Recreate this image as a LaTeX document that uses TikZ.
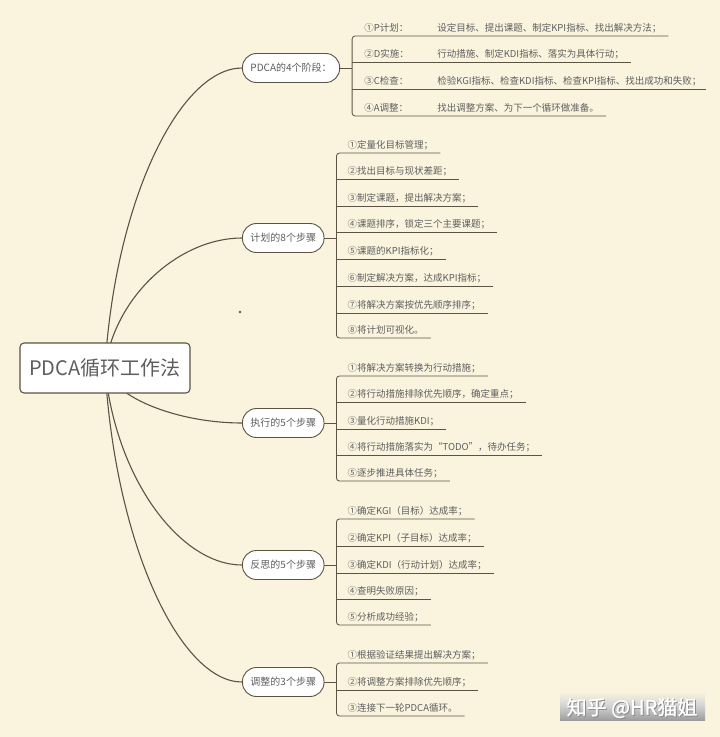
\documentclass[tikz,border=0pt]{standalone}
\usepackage{fontspec}
\setmainfont{Noto Sans CJK SC}
\newfontfamily\wmfont{Noto Sans CJK SC}[FakeBold=1.2]
\usetikzlibrary{calc}
\definecolor{bgc}{HTML}{FAF4DF}
\definecolor{linec}{HTML}{5B5344}
\definecolor{txtc}{HTML}{5E5E5E}
\pgfdeclarelayer{bglayer}
\pgfdeclarelayer{lines}
\pgfsetlayers{bglayer,lines,main}
\begin{document}
\begin{tikzpicture}[x=1pt,y=-1pt,
  rootbox/.style={draw=linec, line width=1.1pt, fill=white, rounded corners=4pt, minimum width=170pt, minimum height=50pt, font=\fontsize{20}{24}\selectfont, text=txtc, inner sep=0pt},
  branchbox/.style={draw=linec, line width=0.9pt, fill=white, rounded corners=14pt, minimum height=29pt, inner xsep=8pt, font=\fontsize{10}{12}\selectfont, text=txtc, anchor=west},
  leaf/.style={anchor=south west, inner sep=0pt, text height=8.5pt, text depth=4.5pt, font=\fontsize{9.5}{11}\selectfont, text=txtc},
  conn/.style={draw=linec, line width=1.1pt},
  uline/.style={draw=linec, line width=0.8pt},
  lead/.style={draw=linec, line width=0.9pt},
]
\begin{pgfonlayer}{bglayer}
\fill[bgc] (0,0) rectangle (720,737);
\end{pgfonlayer}
\useasboundingbox (0,0) rectangle (720,737);

% root and branches
\node[rootbox] (root) at (105,368) {PDCA循环工作法};
\node[branchbox] (b1) at (242,68) {PDCA的4个阶段：};
\node[branchbox] (b2) at (242,238) {计划的8个步骤};
\node[branchbox] (b3) at (242,423) {执行的5个步骤};
\node[branchbox] (b4) at (242,565) {反思的5个步骤};
\node[branchbox] (b5) at (242,682) {调整的3个步骤};

\begin{pgfonlayer}{lines}
\draw[conn] (root.center) .. controls (115,200) and (180,68) .. (b1.west);
\draw[conn] (root.center) .. controls (115,295) and (180,238) .. (b2.west);
\draw[conn] (root.center) .. controls (115,399) and (180,423) .. (b3.west);
\draw[conn] (root.center) .. controls (115,478) and (180,565) .. (b4.west);
\draw[conn] (root.center) .. controls (115,544) and (180,682) .. (b5.west);
\end{pgfonlayer}

% bracket x positions
\coordinate (v1) at ($(b1.east)+(12,0)$);
\coordinate (v2) at ($(b2.east)+(12,0)$);
\coordinate (v3) at ($(b3.east)+(12,0)$);
\coordinate (v4) at ($(b4.east)+(12,0)$);
\coordinate (v5) at ($(b5.east)+(12,0)$);

% group 1
\node[leaf] (c1a) at (v1 |- 0,36) {\hspace*{12pt}\makebox[73pt][l]{①P计划：}设定目标、提出课题、制定KPI指标、找出解决方法；\hspace*{7pt}};
\node[leaf] (c1b) at (v1 |- 0,62) {\hspace*{12pt}\makebox[73pt][l]{②D实施：}行动措施、制定KDI指标、落实为具体行动；\hspace*{7pt}};
\node[leaf] (c1c) at (v1 |- 0,89) {\hspace*{12pt}\makebox[73pt][l]{③C检查：}检验KGI指标、检查KDI指标、检查KPI指标、找出成功和失败；\hspace*{4pt}};
\node[leaf] (c1d) at (v1 |- 0,116) {\hspace*{12pt}\makebox[73pt][l]{④A调整：}找出调整方案、为下一个循环做准备。\hspace*{7pt}};
\draw[uline, rounded corners=3pt] (c1a.south east) -- (c1a.south west) -- (c1d.south west) -- (c1d.south east);
\draw[uline] (c1b.south west) -- (c1b.south east);
\draw[uline] (c1c.south west) -- (c1c.south east);
\draw[lead] (b1.east) -- (v1);

% group 2
\node[leaf] (c2a) at (v2 |- 0,153) {\hspace*{11pt}①定量化目标管理；\hspace*{7pt}};
\node[leaf] (c2b) at (v2 |- 0,179) {\hspace*{11pt}②找出目标与现状差距；\hspace*{7pt}};
\node[leaf] (c2c) at (v2 |- 0,206) {\hspace*{11pt}③制定课题，提出解决方案；\hspace*{7pt}};
\node[leaf] (c2d) at (v2 |- 0,232) {\hspace*{11pt}④课题排序，锁定三个主要课题；\hspace*{7pt}};
\node[leaf] (c2e) at (v2 |- 0,259) {\hspace*{11pt}⑤课题的KPI指标化；\hspace*{7pt}};
\node[leaf] (c2f) at (v2 |- 0,286) {\hspace*{11pt}⑥制定解决方案，达成KPI指标；\hspace*{7pt}};
\node[leaf] (c2g) at (v2 |- 0,313) {\hspace*{11pt}⑦将解决方案按优先顺序排序；\hspace*{7pt}};
\node[leaf] (c2h) at (v2 |- 0,338) {\hspace*{11pt}⑧将计划可视化。\hspace*{7pt}};
\draw[uline, rounded corners=3pt] (c2a.south east) -- (c2a.south west) -- (c2h.south west) -- (c2h.south east);
\foreach \n in {c2b,c2c,c2d,c2e,c2f,c2g} \draw[uline] (\n.south west) -- (\n.south east);
\draw[lead] (b2.east) -- (v2);

% group 3
\node[leaf] (c3a) at (v3 |- 0,376) {\hspace*{11pt}①将解决方案转换为行动措施；\hspace*{7pt}};
\node[leaf] (c3b) at (v3 |- 0,402) {\hspace*{11pt}②将行动措施排除优先顺序，确定重点；\hspace*{7pt}};
\node[leaf] (c3c) at (v3 |- 0,429) {\hspace*{11pt}③量化行动措施KDI；\hspace*{7pt}};
\node[leaf] (c3d) at (v3 |- 0,455) {\hspace*{11pt}④将行动措施落实为“TODO”，待办任务；\hspace*{7pt}};
\node[leaf] (c3e) at (v3 |- 0,481) {\hspace*{11pt}⑤逐步推进具体任务；\hspace*{7pt}};
\draw[uline, rounded corners=3pt] (c3a.south east) -- (c3a.south west) -- (c3e.south west) -- (c3e.south east);
\foreach \n in {c3b,c3c,c3d} \draw[uline] (\n.south west) -- (\n.south east);
\draw[lead] (b3.east) -- (v3);

% group 4
\node[leaf] (c4a) at (v4 |- 0,519) {\hspace*{11pt}①确定KGI（目标）达成率；\hspace*{7pt}};
\node[leaf] (c4b) at (v4 |- 0,546) {\hspace*{11pt}②确定KPI（子目标）达成率；\hspace*{7pt}};
\node[leaf] (c4c) at (v4 |- 0,573) {\hspace*{11pt}③确定KDI（行动计划）达成率；\hspace*{7pt}};
\node[leaf] (c4d) at (v4 |- 0,599) {\hspace*{11pt}④查明失败原因；\hspace*{7pt}};
\node[leaf] (c4e) at (v4 |- 0,625) {\hspace*{11pt}⑤分析成功经验；\hspace*{7pt}};
\draw[uline, rounded corners=3pt] (c4a.south east) -- (c4a.south west) -- (c4e.south west) -- (c4e.south east);
\foreach \n in {c4b,c4c,c4d} \draw[uline] (\n.south west) -- (\n.south east);
\draw[lead] (b4.east) -- (v4);

% group 5
\node[leaf] (c5a) at (v5 |- 0,663) {\hspace*{11pt}①根据验证结果提出解决方案；\hspace*{7pt}};
\node[leaf] (c5b) at (v5 |- 0,690) {\hspace*{11pt}②将调整方案排除优先顺序；\hspace*{7pt}};
\node[leaf] (c5c) at (v5 |- 0,716) {\hspace*{11pt}③连接下一轮PDCA循环。\hspace*{7pt}};
\draw[uline, rounded corners=3pt] (c5a.south east) -- (c5a.south west) -- (c5c.south west) -- (c5c.south east);
\draw[uline] (c5b.south west) -- (c5b.south east);
\draw[lead] (b5.east) -- (v5);

% stray dot
\fill[linec] (240,312) circle (1.3);

% watermark
\shade[top color=bgc, bottom color=black!38, middle color=black!18] (560,692) rectangle (705,720);
\node[text=black!45, font=\wmfont\fontsize{20}{24}\selectfont] (wmshadow) at (633,709) {知乎 @HR猫姐};
\node[text=white, font=\wmfont\fontsize{20}{24}\selectfont] (wm) at (632,708) {知乎 @HR猫姐};
\end{tikzpicture}
\end{document}
